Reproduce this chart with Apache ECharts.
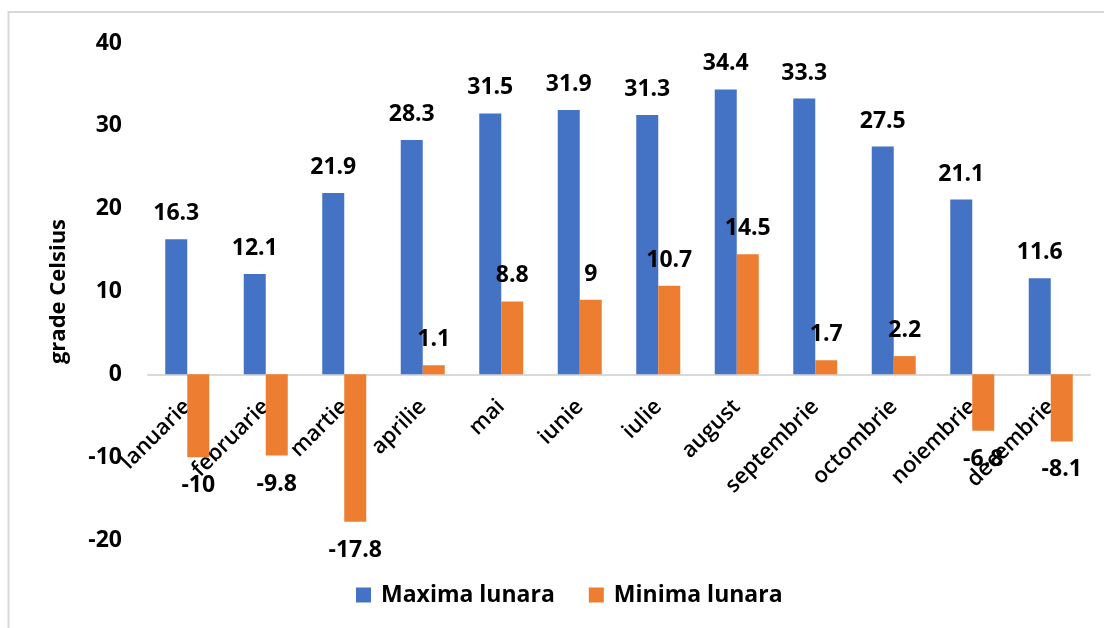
<!DOCTYPE html>
<html>
<head>
<meta charset="utf-8">
<script src="https://cdn.jsdelivr.net/npm/echarts@6/dist/echarts.min.js"></script>
<style>
html,body{margin:0;padding:0;background:#fff;}
#chart{width:1104px;height:628px;}
</style>
</head>
<body>
<div id="chart"></div>
<script>
var categories = ['Ianuarie','februarie','martie','aprilie','mai','iunie','iulie','august','septembrie','octombrie','noiembrie','decembrie'];
var maxValues = [16.3, 12.1, 21.9, 28.3, 31.5, 31.9, 31.3, 34.4, 33.3, 27.5, 21.1, 11.6];
var minValues = [-10, -9.8, -17.8, 1.1, 8.8, 9, 10.7, 14.5, 1.7, 2.2, -6.8, -8.1];
var seriesNames = ['Maxima lunara', 'Minima lunara'];
var yTicks = { min: -20, max: 40, interval: 10 };

var FONT = '"Open Sans", sans-serif';
var GRID = { left: 148, right: 14, top: 43, bottom: 88 };
var plotH = 628 - GRID.top - GRID.bottom;
// distance from grid bottom to the zero line, via the axis range
var zeroOffset = plotH * (0 - yTicks.min) / (yTicks.max - yTicks.min);

function itemize(arr){
  return arr.map(function(v){
    return { value: v, label: { position: v < 0 ? 'bottom' : 'top', distance: v < 0 ? 17 : 14 } };
  });
}
var chart = echarts.init(document.getElementById('chart'), null, {renderer:'canvas'});
chart.setOption({
  animation: false,
  backgroundColor: '#fff',
  graphic: [{
    type: 'rect', silent: true, z: -1,
    shape: { x: 8.5, y: 12, width: 1200, height: 800 },
    style: { fill: 'none', stroke: '#d9d9d9', lineWidth: 2 }
  }],
  grid: { left: GRID.left, right: GRID.right, top: GRID.top, bottom: GRID.bottom, containLabel: false, outerBoundsMode: 'none' },
  legend: {
    left: 351, top: 578,
    itemWidth: 15, itemHeight: 15, itemGap: 34,
    icon: 'rect',
    textStyle: { fontFamily: FONT, fontWeight: 'bold', fontSize: 23, color: '#000', lineHeight: 24, padding: [0,0,0,5] },
    data: seriesNames
  },
  xAxis: {
    type: 'category',
    data: categories,
    position: 'bottom',
    offset: -zeroOffset,
    axisLine: { onZero: false, lineStyle: { color: '#d9d9d9', width: 2 } },
    axisTick: { show: false },
    axisLabel: { rotate: 45, interval: 0, margin: 29, fontFamily: FONT, fontWeight: 600, fontSize: 22, color: '#000' },
    splitLine: { show: false }
  },
  yAxis: {
    type: 'value',
    min: yTicks.min, max: yTicks.max, interval: yTicks.interval,
    name: 'grade Celsius',
    nameLocation: 'middle',
    nameGap: 78,
    nameTextStyle: { fontFamily: FONT, fontWeight: 'bold', fontSize: 22, color: '#000' },
    axisLine: { show: false },
    axisTick: { show: false },
    splitLine: { show: false },
    axisLabel: { margin: 26, fontFamily: FONT, fontWeight: 'bold', fontSize: 23, color: '#000' }
  },
  series: [
    {
      name: seriesNames[0], type: 'bar', data: itemize(maxValues),
      barWidth: 22, barGap: '0%',
      itemStyle: { color: '#4472C4' },
      label: { show: true, fontFamily: FONT, fontWeight: 'bold', fontSize: 23, color: '#000' }
    },
    {
      name: seriesNames[1], type: 'bar', data: itemize(minValues),
      barWidth: 22, barGap: '0%',
      itemStyle: { color: '#ED7D31' },
      label: { show: true, fontFamily: FONT, fontWeight: 'bold', fontSize: 23, color: '#000' }
    }
  ]
});
</script>
</body>
</html>
